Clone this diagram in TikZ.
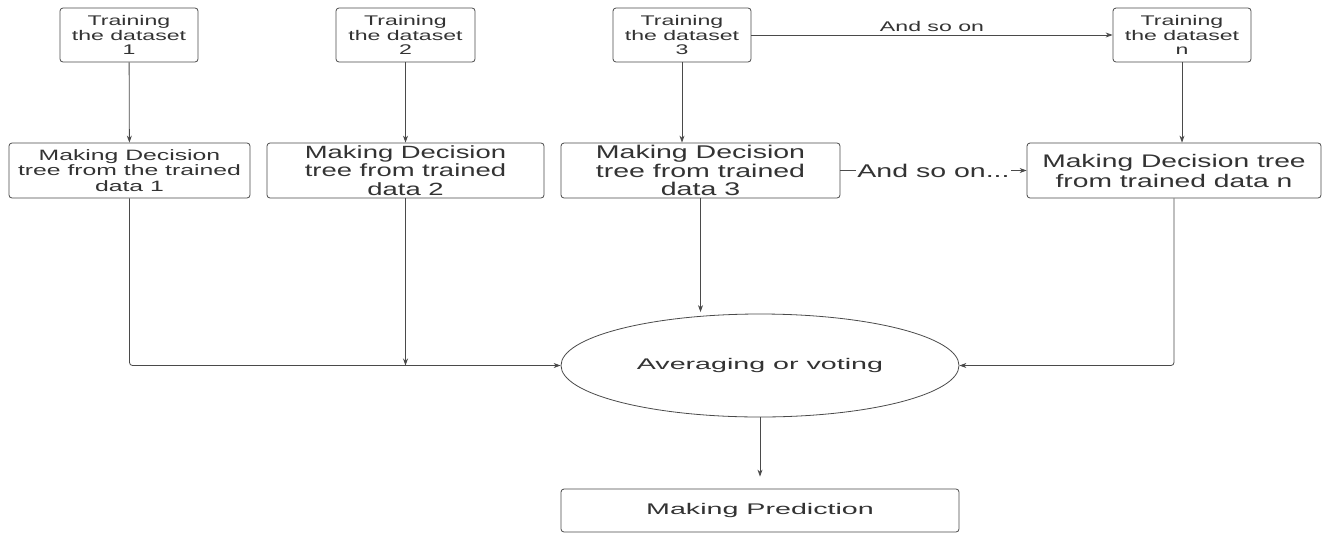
\documentclass[tikz,border=0pt]{standalone}
\usepackage{fontspec}
\setmainfont{Liberation Sans}
\newfontfamily\widefont[FakeStretch=1.55]{Liberation Sans}
\newfontfamily\wwidefont[FakeStretch=1.65]{Liberation Sans}
\newfontfamily\xwidefont[FakeStretch=1.86]{Liberation Sans}
\usetikzlibrary{arrows.meta,shapes.geometric}
\definecolor{linec}{HTML}{4A4A4A}
\definecolor{textc}{HTML}{333333}
\begin{document}
\begin{tikzpicture}[x=1pt,y=-1pt,
  box/.style={draw=linec, line width=0.8pt, rounded corners=3pt, inner sep=0pt, align=center, text=textc},
  tbox/.style={box, minimum width=138pt, minimum height=54pt, font=\wwidefont\fontsize{14}{14.8}\selectfont},
  mbox/.style={box, minimum height=55pt},
  conn/.style={draw=linec, line width=0.8pt, -{Stealth[length=7pt,width=5pt]}},
  lbl/.style={text=textc, inner sep=1pt}
]
\useasboundingbox (0,0) rectangle (1324,533);
\fill[white] (0,0) rectangle (1324,533);

\node[tbox] (T1) at (129,35) {Training\\the dataset\\1};
\node[tbox, minimum width=139pt] (T2) at (405.5,35) {Training\\the dataset\\2};
\node[tbox] (T3) at (682,35) {Training\\the dataset\\3};
\node[tbox] (Tn) at (1182,35) {Training\\the dataset\\n};

\node[mbox, minimum width=241pt, font=\wwidefont\fontsize{15}{15.8}\selectfont] (M1) at (129.5,170.5) {Making Decision\\tree from the trained\\data 1};
\node[mbox, minimum width=277pt, font=\widefont\fontsize{17.7}{18.3}\selectfont] (M2) at (405.5,170.5) {Making Decision\\tree from trained\\data 2};
\node[mbox, minimum width=279pt, font=\widefont\fontsize{18.4}{18.3}\selectfont] (M3) at (700.5,170.5) {Making Decision\\tree from trained\\data 3};
\node[mbox, minimum width=294pt, font=\widefont\fontsize{18.2}{20}\selectfont] (Mn) at (1174,170.5) {Making Decision tree\\from trained data n};

\node[draw=linec, line width=0.8pt, ellipse, minimum width=398pt, minimum height=103pt, inner sep=0pt, text=textc, font=\xwidefont\fontsize{15.4}{18}\selectfont] (E) at (760,365.5) {Averaging or voting};
\node[box, minimum width=398pt, minimum height=43pt, font=\xwidefont\fontsize{15.4}{18}\selectfont] (P) at (760,510.5) {Making Prediction};

\draw[conn] (T1) -- (M1);
\draw[conn] (T2) -- (M2);
\draw[conn] (T3.south) -- (T3.south |- M3.north);
\draw[conn] (Tn.south) -- (Tn.south |- Mn.north);

\draw[conn] (T3) -- node[lbl, above=2pt, font=\wwidefont\fontsize{14}{16}\selectfont] {And so on} (Tn);
\draw[conn] (M3) -- node[lbl, fill=white, font=\widefont\fontsize{18.4}{20}\selectfont] {And so on...} (Mn);

\draw[conn, rounded corners=3pt] (M1.south) |- (E.west);
\draw[conn] (M2.south) -- (M2.south |- E.west);
\draw[conn, shorten >=1.5pt] (M3.south) -- (M3.south |- E.north);
\draw[conn, rounded corners=3pt] (Mn.south) |- (E.east);
\draw[conn, shorten >=12pt] (E) -- (P);
\end{tikzpicture}
\end{document}
